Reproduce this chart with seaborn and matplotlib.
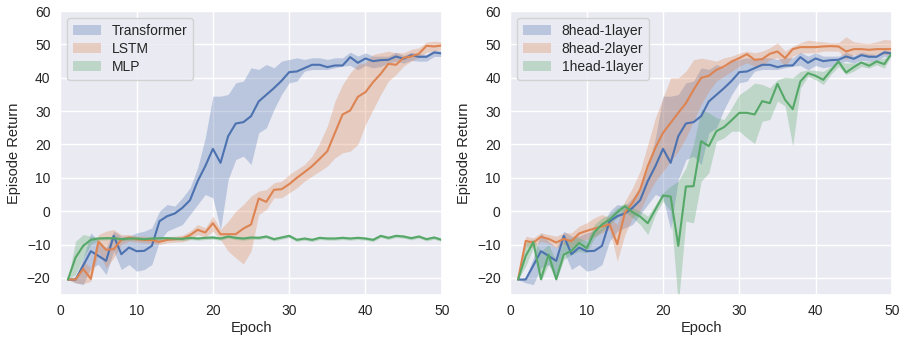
import numpy as np
import pandas as pd
import seaborn as sns
import matplotlib
matplotlib.use("Agg")
import matplotlib.pyplot as plt
from matplotlib.patches import Patch

epochs = list(range(1, 51))

# ---- left panel: model types ----
transformer = [-20.5, -20.5, -16.3, -12, -13.4, -14.9, -7.4, -12.9, -10.9, -12,
               -11.9, -10.4, -3, -1.5, -0.7, 1, 3.3, 9, 13.5, 18.7,
               14.5, 22.5, 26.3, 26.7, 28.5, 32.9, 34.9, 36.9, 39.1, 41.7,
               41.9, 42.9, 43.9, 43.9, 43.2, 43.7, 43.7, 46.2, 44.5, 45.8,
               45, 45.3, 45.4, 46.4, 45.7, 46.8, 46.3, 46.3, 47.6, 47.3]
transformer_hi = [-20.5, -19.8, -14, -6.5, -9, -11, -6, -7.5, -7.5, -6.5,
                  -6, -5, 0, 2, 1.5, 4, 7, 13, 22, 34.5,
                  34.5, 35, 38.5, 39, 43, 42.5, 44, 43, 45, 45.5,
                  46, 45.5, 46, 46, 45.5, 46, 46, 47.7, 46.5, 47.5,
                  46.5, 46.5, 46.5, 47.7, 46.7, 47.7, 47.2, 47, 48.4, 48]
transformer_lo = [-20.5, -21.5, -22, -17, -16, -19, -12, -17.5, -16, -18,
                  -17.5, -16, -9, -6, -5, -4, -1, 2, 5, 4,
                  -5.5, 9.5, 15.5, 16.5, 14, 23.5, 25, 30.5, 35, 38.5,
                  39, 42, 42.5, 42.5, 42.5, 43, 43.5, 43.7, 42.4, 43.7,
                  43, 43.4, 44.4, 45, 44.4, 45.2, 45, 45, 46.4, 46.4]

lstm = [-20.5, -20.5, -17.3, -20.3, -9.1, -11.6, -11.4, -8.6, -7.9, -8.4,
        -8.6, -8.7, -9.2, -8.6, -8.4, -8.2, -7.2, -5.6, -6.4, -3.6,
        -6.9, -6.9, -6.9, -5.2, -4, 3.8, 2.8, 6.4, 6.6, 8.1,
        10, 11.7, 13.5, 15.7, 18, 23.5, 29, 30.2, 34.3, 35.7,
        38.7, 41.2, 44.2, 43.9, 46, 46.4, 47.2, 49.6, 49.4, 49.7]
lstm_hi = [-20.5, -19.5, -15, -17, -7, -6, -5.5, -7, -7, -7.5,
           -7.5, -7.8, -8.3, -7.7, -7.5, -7.2, -6, -4, -5, -1.5,
           -5.5, -3, 0, 2, 4.5, 6, 6.5, 8.5, 9, 11,
           12.5, 14, 16.5, 20.5, 25.5, 33, 38, 41.5, 44, 44.5,
           47, 47.5, 48, 47.5, 47.5, 48.5, 49, 50.7, 51, 50.8]
lstm_lo = [-20.5, -21.5, -21.8, -21, -12, -17, -14, -10, -9, -9.3,
           -9.5, -9.6, -10, -9.5, -9.3, -9.2, -8.5, -7, -7.8, -6,
           -8.5, -12, -14, -15.8, -12, -1, 0.5, 4, 4, 5.5,
           7, 9, 10.5, 12, 13.5, 16, 17.5, 18, 20, 26,
           30.5, 35, 39, 41, 43.5, 45, 46.2, 47.6, 48.1, 48.4]

mlp = [-20.5, -13.9, -10.4, -8.6, -8.2, -8.1, -8.1, -8.4, -8.2, -8.2,
       -8.4, -8.2, -8.1, -8.1, -8.2, -8.3, -8.0, -8.2, -8.0, -7.9,
       -8.2, -7.6, -8, -8.2, -7.9, -8, -7.6, -8.4, -7.9, -7.4,
       -8.6, -8.2, -8.6, -8, -8.2, -8.2, -8, -8.2, -8, -8.2,
       -8.6, -7.4, -8, -7.4, -7.6, -8.1, -7.6, -8.4, -7.9, -8.6]
mlp_hi = [-20.5, -9, -7, -7.5, -7.7, -7.6, -7.6, -7.9, -7.7, -7.7,
          -7.9, -7.7, -7.6, -7.6, -7.7, -7.8, -7.5, -7.7, -7.5, -7.4,
          -7.7, -7.1, -7.5, -7.7, -7.4, -7.5, -7.1, -7.9, -7.4, -6.9,
          -8.1, -7.7, -8.1, -7.5, -7.7, -7.7, -7.5, -7.7, -7.5, -7.7,
          -8.1, -6.9, -7.5, -6.9, -7.1, -7.6, -7.1, -7.9, -7.4, -8.1]
mlp_lo = [-20.5, -19, -14, -10, -8.7, -8.6, -8.6, -8.9, -8.7, -8.7,
          -8.9, -8.7, -8.6, -8.6, -8.7, -8.8, -8.5, -8.7, -8.5, -8.4,
          -8.7, -8.1, -8.5, -8.7, -8.4, -8.5, -8.1, -8.9, -8.4, -7.9,
          -9.1, -8.7, -9.1, -8.5, -8.7, -8.7, -8.5, -8.7, -8.5, -8.7,
          -9.1, -7.9, -8.5, -7.9, -8.1, -8.6, -8.1, -8.9, -8.4, -9.1]

# ---- right panel: heads / layers (8head-1layer is the Transformer run) ----
h8l2 = [-20.5, -8.9, -9.4, -7.7, -8.3, -9.4, -8.3, -9, -6.7, -5.9,
        -5.2, -4.6, -3.9, -9.9, -0.5, 2.5, 6.5, 13.5, 19, 23.5,
        26.5, 29.5, 32.4, 36.4, 40, 40.6, 42.4, 43.4, 44.9, 45.9,
        47.1, 45.4, 45.6, 47.2, 47.9, 45.9, 48.6, 49.2, 49.2, 49.2,
        49.4, 49.5, 49.4, 47.9, 48.6, 48.6, 48.4, 48.6, 48.6, 48.6]
h8l2_hi = [-20.5, -7.5, -8, -6.5, -7, -7.5, -6.5, -6.5, -4.5, -3.5,
           -2, -1, -2, -4, 3, 7, 12, 20, 28, 34,
           40, 40, 42, 45.4, 45.9, 45.5, 45, 46, 46.5, 47.4,
           48, 47.5, 48, 49, 50.5, 48, 49.5, 50.5, 51.3, 51,
           50.8, 50.5, 50.5, 52.3, 50.8, 50.5, 50.3, 50.8, 51.5, 51.3]
h8l2_lo = [-20.5, -10.5, -11, -9, -9.6, -11, -10, -11, -9, -8.5,
           -7.5, -6.5, -5.5, -15, -7, -2, 0, 5, 9, 12,
           15, 18, 22, 27, 32, 36, 39, 40.5, 42, 43.5,
           44.5, 43.5, 43.5, 45.5, 46, 43.5, 46.5, 47.5, 47.5, 47.5,
           48, 48, 48, 45.5, 47, 47, 46.5, 47, 47, 47]

h1l1 = [-20.5, -13.4, -9.3, -20.4, -13, -20.4, -13, -11.9, -9.5, -11.1,
        -6.3, -4, -2.5, -0.3, 1.5, -0.3, -1.6, -3.6, 0.5, 4.7,
        4.4, -10.4, 7.4, 7.5, 21, 19.5, 24, 25.2, 27.3, 29.5,
        29.5, 29, 33, 32.4, 38.2, 33.4, 30.6, 38.9, 41.4, 40.6,
        39.4, 42.2, 44.9, 41.6, 43.2, 44.6, 43.6, 44.9, 44.1, 47.4]
h1l1_hi = [-20.5, -9.5, -8.3, -12, -10, -15, -9, -8, -8, -9,
           -4, -2, -1, 1, 2.5, 1, 0, -1.5, 2, 5.5,
           7.5, 9, 13, 20, 30.5, 29.5, 28, 27.5, 31, 35,
           36.5, 38.4, 38, 37, 39.4, 40.2, 40, 41.9, 42.4, 42.2,
           41.9, 43.4, 44.9, 44.4, 44.4, 44.9, 44.9, 45.4, 45.9, 47.7]
h1l1_lo = [-20.5, -16.5, -11, -21, -16, -21, -14.5, -13, -12, -12.5,
           -8, -6, -4, -2, 0, -2, -4, -7, -1, 3,
           0, -28, -3, -3.5, 9, 11.5, 21, 22, 24, 24,
           22, 20.3, 27, 27.5, 33, 31.5, 19.5, 36.9, 40.4, 39.4,
           38, 41, 43.4, 41, 42, 43.4, 42.9, 43.9, 42.9, 47]

left_names = ["Transformer", "LSTM", "MLP"]
right_names = ["8head-1layer", "8head-2layer", "1head-1layer"]

sns.set_theme(style="darkgrid", font="Liberation Sans")
plt.rcParams["font.family"] = ["Liberation Sans", "DejaVu Sans"]
colors = sns.color_palette("deep")[:3]

fig, axes = plt.subplots(1, 2, figsize=(9, 3.37), dpi=100)
fig.subplots_adjust(left=0.067, right=0.991, top=0.967, bottom=0.126, wspace=0.18)

panels = [
    (axes[0], left_names, [(transformer, transformer_lo, transformer_hi),
                           (lstm, lstm_lo, lstm_hi),
                           (mlp, mlp_lo, mlp_hi)]),
    (axes[1], right_names, [(transformer, transformer_lo, transformer_hi),
                            (h8l2, h8l2_lo, h8l2_hi),
                            (h1l1, h1l1_lo, h1l1_hi)]),
]

for ax, names, series in panels:
    rows = []
    for name, (mean, lo, hi) in zip(names, series):
        for e, m in zip(epochs, mean):
            rows.append({"Epoch": e, "Episode Return": m, "model": name})
    df = pd.DataFrame(rows)
    sns.lineplot(data=df, x="Epoch", y="Episode Return", hue="model",
                 hue_order=names, palette=colors, errorbar=None,
                 linewidth=1.5, legend=False, ax=ax)
    for c, (mean, lo, hi) in zip(colors, series):
        ax.fill_between(epochs, lo, hi, color=c, alpha=0.3, linewidth=0)

    handles = [Patch(facecolor=c, alpha=0.3, edgecolor="none") for c in colors]
    ax.legend(handles, names, loc="upper left", fontsize=10, labelspacing=0.3)
    ax.set_xlim(0, 50)
    ax.set_ylim(-25, 60)
    ax.set_xticks([0, 10, 20, 30, 40, 50])
    ax.set_yticks([-20, -10, 0, 10, 20, 30, 40, 50, 60])
    ax.tick_params(labelsize=10, length=0, pad=7)
    ax.set_xlabel("Epoch", fontsize=10.5, labelpad=2)
    ax.set_ylabel("Episode Return", fontsize=10.5, labelpad=4)

fig.savefig("out.png", dpi=100)
